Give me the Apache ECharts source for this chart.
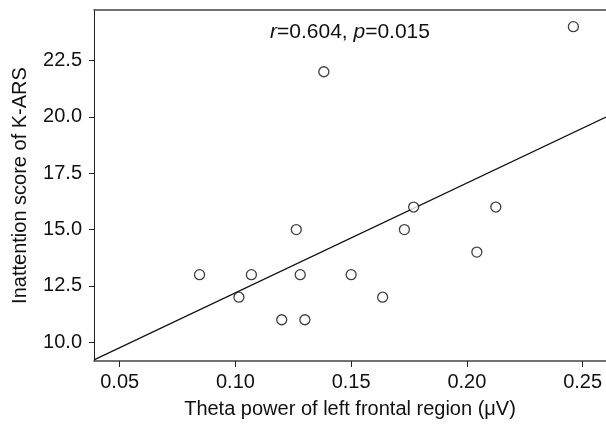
<!DOCTYPE html>
<html>
<head>
<meta charset="utf-8">
<script src="https://cdn.jsdelivr.net/npm/echarts@6/dist/echarts.min.js"></script>
<style>html,body{margin:0;padding:0;background:#fff}#c{width:606px;height:430px}</style>
</head>
<body>
<div id="c"></div>
<script>
// Data
var thetaPower = [0.0845, 0.1015, 0.1069, 0.1200, 0.1263, 0.1280, 0.1300, 0.1382, 0.1500, 0.1636, 0.1730, 0.1770, 0.2043, 0.2125, 0.2460];
var inattention = [13, 12, 13, 11, 15, 13, 11, 22, 13, 12, 15, 16, 14, 16, 24];
var xTicks = [0.05, 0.10, 0.15, 0.20, 0.25];
var yTicks = [10.0, 12.5, 15.0, 17.5, 20.0, 22.5];
var annotation = {r: '0.604', p: '0.015'};
var xTitle = 'Theta power of left frontal region (\u03bcV)';
var yTitle = 'Inattention score of K-ARS';

var xMin = 0.0389, xMax = 0.2601, yMin = 9.17, yMax = 24.74;

// least-squares fit computed from the data
var n = thetaPower.length, mx = 0, my = 0;
for (var i = 0; i < n; i++) { mx += thetaPower[i]; my += inattention[i]; }
mx /= n; my /= n;
var sxy = 0, sxx = 0;
for (var i = 0; i < n; i++) { sxy += (thetaPower[i] - mx) * (inattention[i] - my); sxx += (thetaPower[i] - mx) * (thetaPower[i] - mx); }
var slope = sxy / sxx, icpt = my - slope * mx;
var fitLine = [[xMin, icpt + slope * xMin], [xMax, icpt + slope * xMax]];

var pts = thetaPower.map(function (x, i) { return [x, inattention[i]]; });
var font = 'Liberation Sans, Arial, sans-serif';

var chart = echarts.init(document.getElementById('c'), null, {renderer: 'canvas'});
chart.setOption({
  animation: false,
  backgroundColor: '#fff',
  grid: {left: 94, right: 0, top: 10, bottom: 69},
  xAxis: [{
    type: 'value', position: 'bottom', min: xMin, max: xMax,
    name: xTitle, nameLocation: 'middle', nameGap: 38,
    nameTextStyle: {fontFamily: font, fontSize: 20, color: '#111'},
    axisLine: {show: true, lineStyle: {color: '#444', width: 1.5}},
    axisTick: {show: true, length: 6, customValues: xTicks, lineStyle: {color: '#222'}},
    axisLabel: {customValues: xTicks, margin: 11, fontFamily: font, fontSize: 20, color: '#111',
      formatter: function (v) { return v.toFixed(2); }},
    splitLine: {show: false}
  }, {
    type: 'value', position: 'top', min: xMin, max: xMax,
    axisLine: {show: true, onZero: false, lineStyle: {color: '#444', width: 1.5}},
    axisTick: {show: false}, axisLabel: {show: false}, splitLine: {show: false}
  }],
  yAxis: {
    type: 'value', min: yMin, max: yMax,
    name: yTitle, nameLocation: 'middle', nameGap: 64,
    nameTextStyle: {fontFamily: font, fontSize: 20, color: '#111'},
    axisLine: {show: true, lineStyle: {color: '#222', width: 1}},
    axisTick: {show: true, length: 5, customValues: yTicks, lineStyle: {color: '#222'}},
    axisLabel: {customValues: yTicks, margin: 12, fontFamily: font, fontSize: 20, color: '#111',
      formatter: function (v) { return v.toFixed(1); }},
    splitLine: {show: false}
  },
  graphic: [{
    type: 'text', left: 270, top: 22,
    style: {
      text: '{i|r}=' + annotation.r + ', {i|p}=' + annotation.p,
      fontFamily: font, fontSize: 21, fill: '#111',
      rich: {i: {fontStyle: 'italic', fontFamily: font, fontSize: 21, fill: '#111'}}
    }
  }],
  series: [{
    type: 'line', data: fitLine, showSymbol: false, silent: true, z: 2,
    lineStyle: {color: '#111', width: 1.2}
  }, {
    type: 'scatter', data: pts, symbol: 'circle', symbolSize: 10, z: 3,
    itemStyle: {color: '#fff', borderColor: '#111', borderWidth: 1.3}
  }]
});
</script>
</body>
</html>
